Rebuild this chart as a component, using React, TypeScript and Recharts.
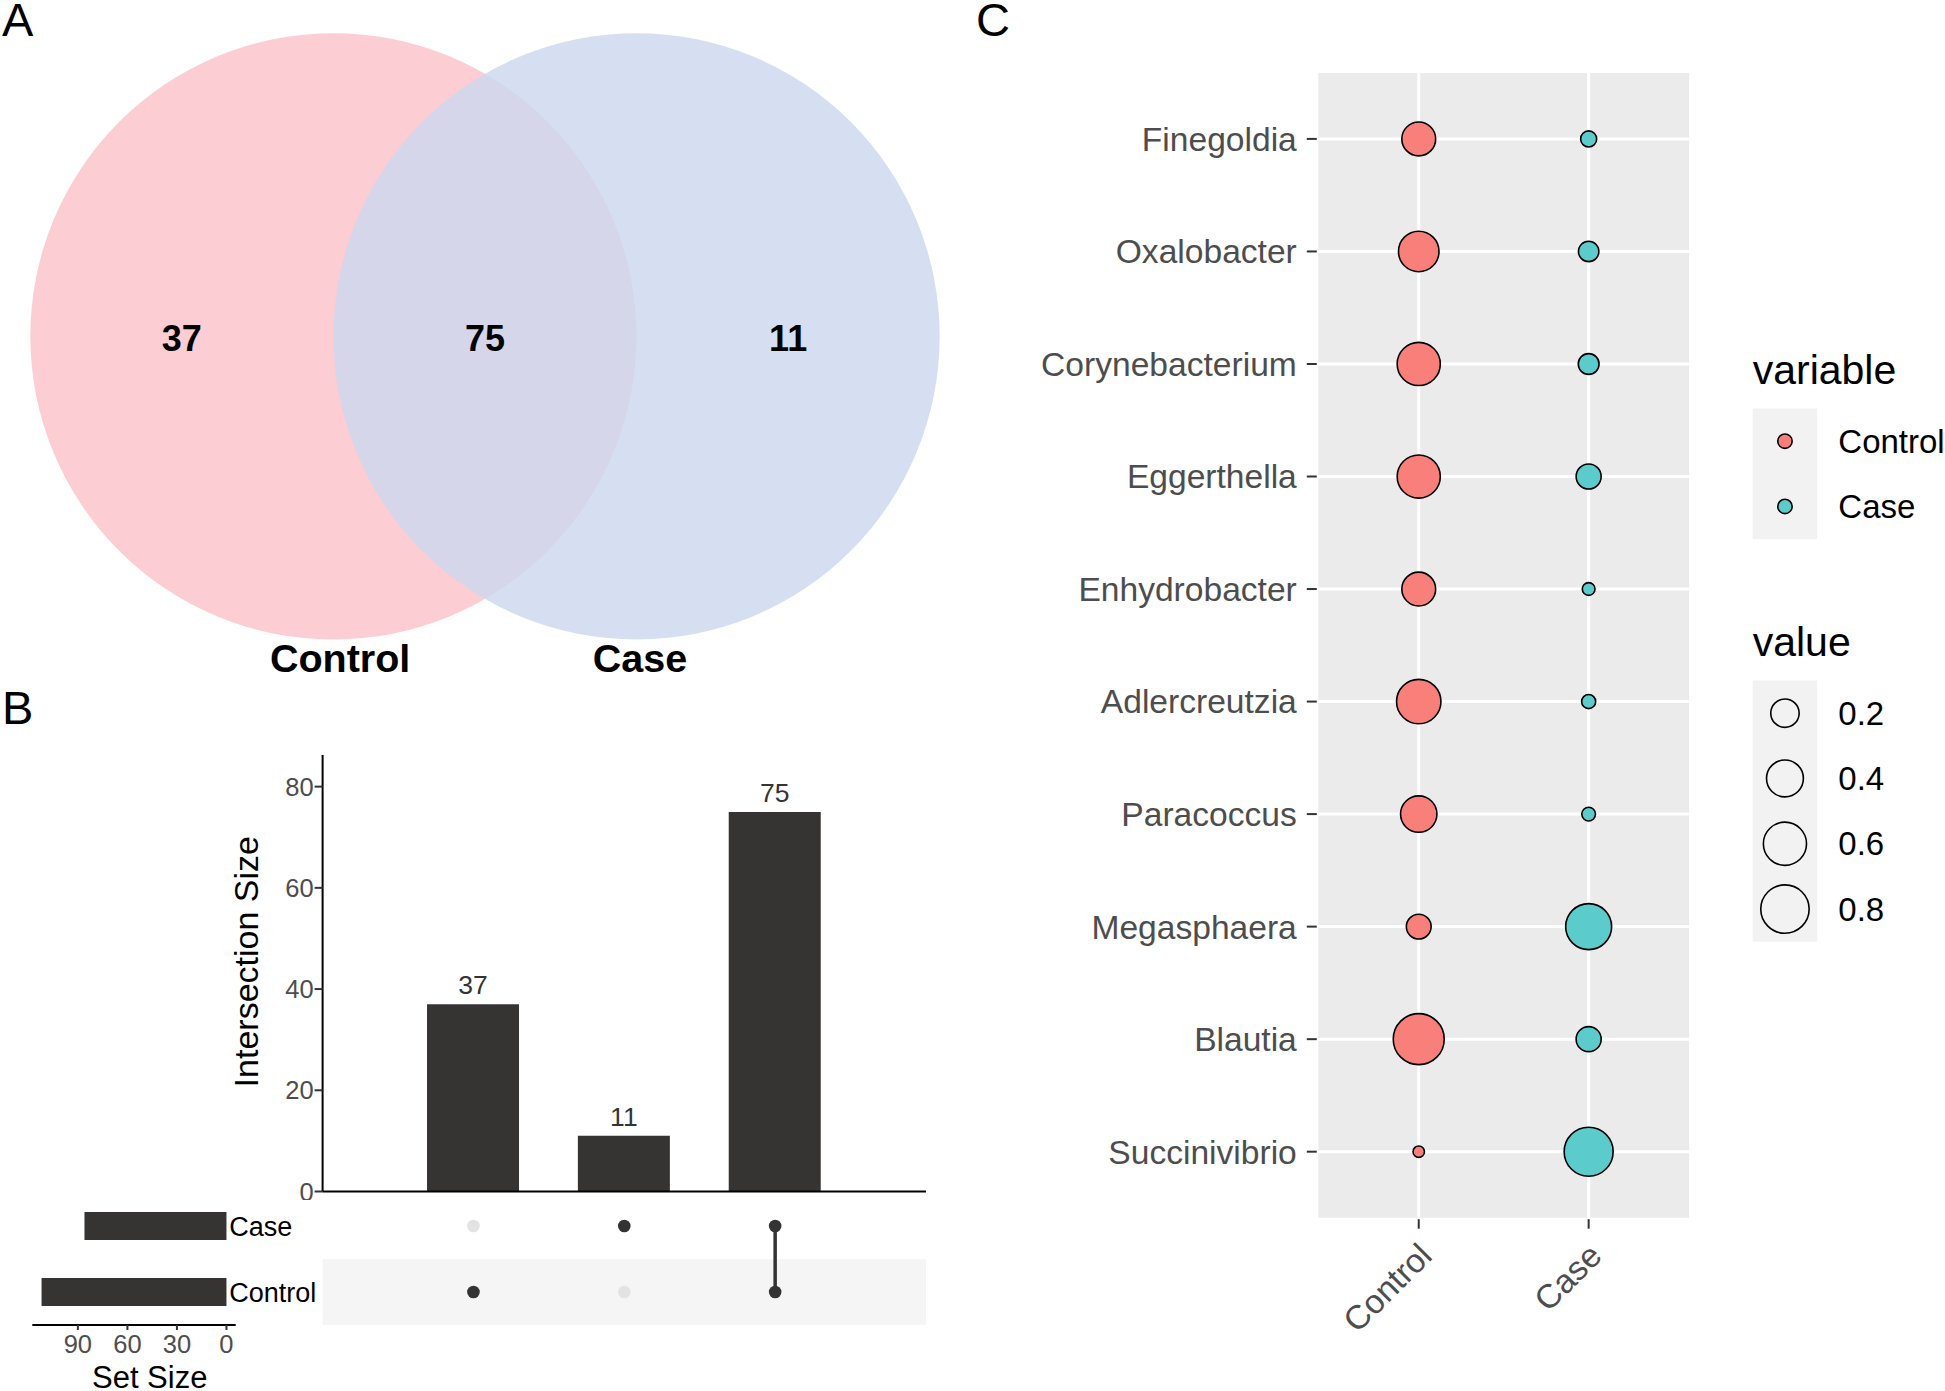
import React from 'react';
import {
  ScatterChart,
  Scatter,
  XAxis,
  YAxis,
  BarChart,
  Bar,
  LabelList,
  CartesianGrid,
  ReferenceArea,
} from 'recharts';

const FONT = '"Liberation Sans", Arial, Helvetica, sans-serif';

// ---------------- Panel A: Venn ----------------
const vennSetNames = ['Control', 'Case'];
const vennSetCenters = [-0.5, 0.5];
const vennSetLabelX = [-0.478, 0.511];
const vennSetColors = ['#FCCDD2', '#CCD7EF'];
const vennSetOpacity = [1, 0.81];
const vennRegionCounts = [37, 75, 11];
const vennRegionX = [-1, 0, 1];

// ---------------- Panel B: UpSet ----------------
const intersectionSizes = [37, 11, 75];
const intersectionMembers = [['Control'], ['Case'], ['Control', 'Case']];
const intersectionTicks = [0, 20, 40, 60, 80];
const setNames = ['Case', 'Control'];
const setSizes = [86, 112];
const setSizeTicks = [0, 30, 60, 90];

// ---------------- Panel C: bubble plot ----------------
const genera = [
  'Finegoldia',
  'Oxalobacter',
  'Corynebacterium',
  'Eggerthella',
  'Enhydrobacter',
  'Adlercreutzia',
  'Paracoccus',
  'Megasphaera',
  'Blautia',
  'Succinivibrio',
];
const groups = ['Control', 'Case'];
const controlValues = [0.32, 0.51, 0.6, 0.6, 0.32, 0.645, 0.387, 0.14, 0.911, 0.04];
const caseValues = [0.052, 0.085, 0.089, 0.143, 0.041, 0.044, 0.043, 0.705, 0.143, 0.825];
const groupColors = ['#F9807A', '#5CCBCB'];
const sizeBreaks = [0.2, 0.4, 0.6, 0.8];

// ---------- derived tables ----------
const vennCircleData = vennSetNames.map((name, i) => ({
  name,
  x: vennSetCenters[i],
  y: 0,
  fill: vennSetColors[i],
  opacity: vennSetOpacity[i],
}));
const vennCountData = vennRegionCounts.map((c, i) => ({ x: vennRegionX[i], y: 0, label: String(c) }));
const vennLabelData = vennSetNames.map((name, i) => ({ x: vennSetLabelX[i], y: -1.1075, label: name }));

const intersectionData = intersectionSizes.map((size, i) => ({ x: i + 1, size }));
const matrixEmpty: { x: number; y: number }[] = [];
const matrixFilled: { x: number; y: number }[] = [];
const matrixLinks: { x: number; y: number }[][] = [];
intersectionMembers.forEach((mem, i) => {
  setNames.forEach((s, j) => {
    const pt = { x: i + 1, y: setNames.length - j };
    (mem.includes(s) ? matrixFilled : matrixEmpty).push(pt);
  });
  if (mem.length > 1) {
    matrixLinks.push(mem.map((s) => ({ x: i + 1, y: setNames.length - setNames.indexOf(s) })));
  }
});
const setSizeData = setNames.map((name, i) => ({ name, size: setSizes[i] }));

const N = genera.length;
const controlPts = genera.map((g, i) => ({ x: 1, y: N - i, value: controlValues[i], genus: g }));
const casePts = genera.map((g, i) => ({ x: 2, y: N - i, value: caseValues[i], genus: g }));
const allValues = [...controlValues, ...caseValues];
const VMIN = Math.min(...allValues);
const VMAX = Math.max(...allValues);
const R_OUT_MIN = 6.5;
const R_OUT_MAX = 26.3;
const DOT_STROKE = 1.6;
function bubbleRadius(v: number) {
  const t = Math.max(0, Math.min(1, (v - VMIN) / (VMAX - VMIN)));
  return R_OUT_MIN + (R_OUT_MAX - R_OUT_MIN) * Math.sqrt(t) - DOT_STROKE / 2;
}

// ---------- layout constants ----------
const VENN_W = 970;
const VENN_H = 700;
const VENN_XDOM: [number, number] = [-1.6, 1.6];
const VENN_YDOM: [number, number] = [-1.2, 1.11];
const VENN_R = VENN_W / (VENN_XDOM[1] - VENN_XDOM[0]);

const BAR_COLOR = '#363333';
const AXIS_TEXT = '#4D4D4D';

// ---------- Panel A ----------
const VennCircle = (p: any) => (
  <circle cx={p.cx} cy={p.cy} r={VENN_R} fill={p.payload.fill} fillOpacity={p.payload.opacity} stroke="none" />
);
const VennCount = (p: any) => (
  <text x={p.cx} y={p.cy} dy="0.4em" textAnchor="middle" fontSize={36} fontWeight="bold" fill="#000" fontFamily={FONT}>
    {p.payload.label}
  </text>
);
const VennSetLabel = (p: any) => (
  <text x={p.cx} y={p.cy} textAnchor="middle" fontSize={39.5} fontWeight="bold" fill="#000" fontFamily={FONT}>
    {p.payload.label}
  </text>
);

function VennPanel() {
  return (
    <ScatterChart width={VENN_W} height={VENN_H} margin={{ top: 0, right: 0, bottom: 0, left: 0 }}>
      <XAxis type="number" dataKey="x" domain={VENN_XDOM} hide allowDataOverflow />
      <YAxis type="number" dataKey="y" domain={VENN_YDOM} hide allowDataOverflow />
      <Scatter data={vennCircleData} shape={VennCircle} isAnimationActive={false} />
      <Scatter data={vennCountData} shape={VennCount} isAnimationActive={false} />
      <Scatter data={vennLabelData} shape={VennSetLabel} isAnimationActive={false} />
    </ScatterChart>
  );
}

// ---------- Panel B ----------
function IntersectionBars() {
  return (
    <BarChart width={960} height={460} data={intersectionData} margin={{ top: 15, right: 34, bottom: 0, left: 0 }}>
      <XAxis
        type="number"
        dataKey="x"
        domain={[0, 4]}
        allowDataOverflow
        tick={false}
        tickLine={false}
        axisLine={{ stroke: '#000', strokeWidth: 2 }}
        height={8.5}
      />
      <YAxis
        type="number"
        domain={[0, 86.25]}
        allowDataOverflow
        ticks={intersectionTicks}
        interval={0}
        width={322.6}
        tickSize={8}
        tickMargin={1}
        axisLine={{ stroke: '#000', strokeWidth: 2 }}
        tickLine={{ stroke: '#333', strokeWidth: 2 }}
        tick={{ fontSize: 25.5, fill: AXIS_TEXT, fontFamily: FONT }}
      />
      <Bar dataKey="size" fill={BAR_COLOR} barSize={92} isAnimationActive={false}>
        <LabelList dataKey="size" position="top" offset={10} fill="#333" fontSize={26.5} fontFamily={FONT} />
      </Bar>
    </BarChart>
  );
}

const MatrixDot = (color: string) => (p: any) => <circle cx={p.cx} cy={p.cy} r={6.3} fill={color} />;
const NoDot = () => <g />;

function MatrixPanel() {
  return (
    <ScatterChart width={960} height={132} margin={{ top: 0, right: 34, bottom: 0, left: 322.6 }}>
      <XAxis type="number" dataKey="x" domain={[0, 4]} hide allowDataOverflow />
      <YAxis type="number" dataKey="y" domain={[0.5, setNames.length + 0.5]} hide allowDataOverflow />
      <ReferenceArea x1={0} x2={4} y1={0.5} y2={1.5} fill="#F5F5F5" fillOpacity={1} stroke="none" />
      <Scatter data={matrixEmpty} shape={MatrixDot('#E3E3E3')} isAnimationActive={false} />
      {matrixLinks.map((link, i) => (
        <Scatter
          key={i}
          data={link}
          line={{ stroke: '#333', strokeWidth: 3.5 }}
          shape={NoDot}
          isAnimationActive={false}
        />
      ))}
      <Scatter data={matrixFilled} shape={MatrixDot('#333')} isAnimationActive={false} />
    </ScatterChart>
  );
}

const SetNameTick = (p: any) => (
  <text x={p.x - 6.4} y={p.y} dy="0.355em" textAnchor="start" fontSize={27} fill="#000" fontFamily={FONT}>
    {p.payload.value}
  </text>
);

const SET_W = 320;
const SET_PLOT_RIGHT = 235.7;

function SetSizePanel() {
  return (
    <BarChart
      width={SET_W}
      height={198}
      data={setSizeData}
      layout="vertical"
      margin={{ top: 0, right: 0, bottom: 0, left: 32.3 }}
    >
      <XAxis
        type="number"
        dataKey="size"
        domain={[-5.6, 117.6]}
        reversed
        allowDataOverflow
        ticks={setSizeTicks}
        interval={0}
        height={66}
        tickSize={5}
        tickMargin={5}
        axisLine={{ stroke: '#000', strokeWidth: 2 }}
        tickLine={{ stroke: '#333', strokeWidth: 2 }}
        tick={{ fontSize: 25.5, fill: AXIS_TEXT, fontFamily: FONT }}
      />
      <YAxis
        type="category"
        dataKey="name"
        orientation="right"
        width={SET_W - SET_PLOT_RIGHT}
        axisLine={false}
        tickLine={false}
        tickSize={0}
        tickMargin={0}
        interval={0}
        tick={SetNameTick}
      />
      <Bar dataKey="size" fill={BAR_COLOR} barSize={28} isAnimationActive={false} />
    </BarChart>
  );
}

// ---------- Panel C ----------
const Bubble = (color: string) => (p: any) => (
  <circle cx={p.cx} cy={p.cy} r={bubbleRadius(p.payload.value)} fill={color} stroke="#000" strokeWidth={DOT_STROKE} />
);

const GroupTick = (p: any) => {
  const qx = p.x + 15;
  const qy = p.y + 29;
  return (
    <text
      x={qx}
      y={qy}
      transform={`rotate(-45, ${qx}, ${qy})`}
      textAnchor="end"
      fontSize={33.5}
      fill={AXIS_TEXT}
      fontFamily={FONT}
    >
      {groups[p.payload.value - 1]}
    </text>
  );
};

function BubblePanel() {
  const yTicks = genera.map((_, i) => i + 1);
  return (
    <ScatterChart width={985} height={1391} margin={{ top: 71.4, right: 254.4, bottom: 0, left: 0 }}>
      <CartesianGrid fill="#EBEBEB" stroke="#FFFFFF" strokeWidth={3} />
      <XAxis
        type="number"
        dataKey="x"
        domain={[0.4, 2.6]}
        allowDataOverflow
        ticks={[1, 2]}
        interval={0}
        height={171.8}
        tickSize={9.5}
        tickMargin={0}
        axisLine={false}
        tickLine={{ stroke: '#333', strokeWidth: 2 }}
        tick={GroupTick}
      />
      <YAxis
        type="number"
        dataKey="y"
        domain={[0.4, N + 0.6]}
        allowDataOverflow
        ticks={yTicks}
        interval={0}
        width={356.8}
        tickSize={10}
        tickMargin={10}
        axisLine={false}
        tickLine={{ stroke: '#333', strokeWidth: 2 }}
        tick={{ fontSize: 33.6, fill: AXIS_TEXT, fontFamily: FONT }}
        tickFormatter={(v: number) => genera[N - v]}
      />
      <Scatter data={controlPts} shape={Bubble(groupColors[0])} isAnimationActive={false} />
      <Scatter data={casePts} shape={Bubble(groupColors[1])} isAnimationActive={false} />
    </ScatterChart>
  );
}

function Overlay() {
  const keyX = 1752.7;
  const keyW = 64.5;
  const keyCx = keyX + keyW / 2;
  const labelX = 1838.3;
  const varKeyTop = 408.5;
  const keyH = 65.3;
  const valKeyTop = 680.5;
  return (
    <svg
      width={1945}
      height={1391}
      style={{ position: 'absolute', left: 0, top: 0, pointerEvents: 'none' }}
      fontFamily={FONT}
    >
      <text x={2} y={36} fontSize={47} fill="#000">A</text>
      <text x={2} y={724} fontSize={47} fill="#000">B</text>
      <text x={976} y={36} fontSize={47} fill="#000">C</text>

      <text x={258} y={961.7} transform="rotate(-90, 258, 961.7)" textAnchor="middle" fontSize={34} fill="#000">
        Intersection Size
      </text>
      <text x={149.7} y={1388} textAnchor="middle" fontSize={31} fill="#000">Set Size</text>

      <text x={keyX} y={383.5} fontSize={41} fill="#000">variable</text>
      <rect x={keyX} y={varKeyTop} width={keyW} height={keyH * groups.length} fill="#F2F2F2" />
      {groups.map((g, i) => {
        const cy = varKeyTop + keyH * (i + 0.5);
        return (
          <g key={g}>
            <circle cx={keyCx} cy={cy} r={7.2} fill={groupColors[i]} stroke="#000" strokeWidth={DOT_STROKE} />
            <text x={labelX} y={cy} dy="0.355em" fontSize={33} fill="#000">{g}</text>
          </g>
        );
      })}

      <text x={keyX} y={656} fontSize={41} fill="#000">value</text>
      <rect x={keyX} y={valKeyTop} width={keyW} height={keyH * sizeBreaks.length} fill="#F2F2F2" />
      {sizeBreaks.map((v, i) => {
        const cy = valKeyTop + keyH * (i + 0.5);
        return (
          <g key={v}>
            <circle cx={keyCx} cy={cy} r={bubbleRadius(v)} fill="none" stroke="#000" strokeWidth={DOT_STROKE} />
            <text x={labelX} y={cy} dy="0.355em" fontSize={33} fill="#000">{v.toFixed(1)}</text>
          </g>
        );
      })}
    </svg>
  );
}

export default function App() {
  return (
    <div
      style={{
        position: 'absolute',
        left: 0,
        top: 0,
        width: 1945,
        height: 1391,
        background: '#fff',
        overflow: 'hidden',
        fontFamily: FONT,
      }}
    >
      <div style={{ position: 'absolute', left: 0, top: 0 }}>
        <VennPanel />
      </div>
      <div style={{ position: 'absolute', left: 0, top: 740 }}>
        <IntersectionBars />
      </div>
      <div style={{ position: 'absolute', left: 0, top: 1193 }}>
        <MatrixPanel />
      </div>
      <div style={{ position: 'absolute', left: 0, top: 1193 }}>
        <SetSizePanel />
      </div>
      <div style={{ position: 'absolute', left: 960, top: 0 }}>
        <BubblePanel />
      </div>
      <Overlay />
    </div>
  );
}
